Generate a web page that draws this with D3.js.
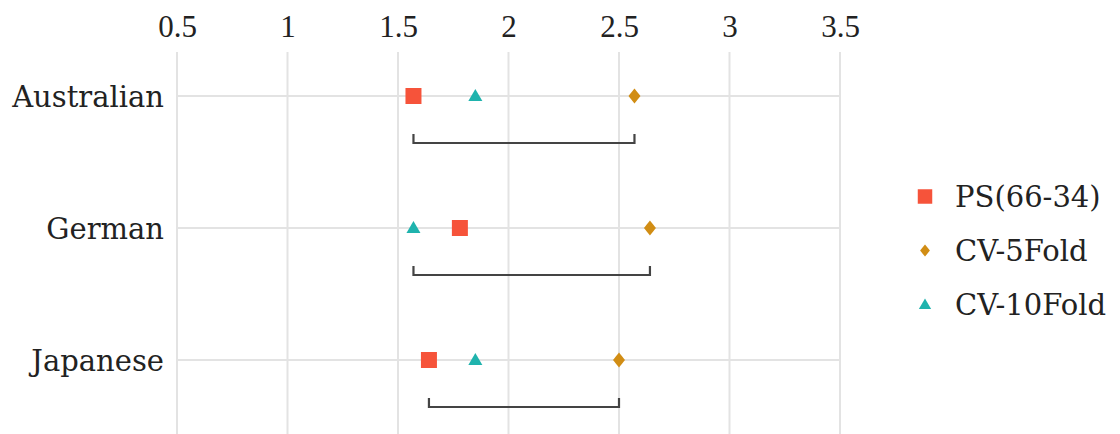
<!DOCTYPE html>
<html>
  <head>
    <meta charset="utf-8">
    <title>Method comparison</title>
    <style>
      body { margin: 0; background: #fff; }
      text { font-family: "DejaVu Serif", "Liberation Serif", serif; fill: #222; }
      .grid line { stroke: #e3e3e3; stroke-width: 2; }
    </style>
  </head>
  <body>
    <div id="chart"></div>
    <script src="https://d3js.org/d3.v7.min.js"></script>
    <script>
      // data
      var datasets = ['Australian', 'German', 'Japanese'];
      var methods = ['PS(66-34)', 'CV-5Fold', 'CV-10Fold'];
      var psValues = [1.57, 1.78, 1.64];
      var cv5Values = [2.57, 2.64, 2.50];
      var cv10Values = [1.85, 1.57, 1.85];
      var xTicks = [0.5, 1, 1.5, 2, 2.5, 3, 3.5];

      var width = 1120, height = 434;
      var colors = ['#f6533a', '#d18d14', '#1fb3ad'];

      // ggplot-like diamond: a bit wider than d3's
      var wideDiamond = {
        draw: function(context, size) {
          var h = Math.sqrt(size / 1.6) , w = h * 0.8;
          context.moveTo(0, -h);
          context.lineTo(w, 0);
          context.lineTo(0, h);
          context.lineTo(-w, 0);
          context.closePath();
        }
      };
      var shapes = [d3.symbolSquare, wideDiamond, d3.symbolTriangle];

      var svg = d3.select('#chart').append('svg')
        .attr('width', width)
        .attr('height', height);

      var x = d3.scaleLinear().domain([0.5, 3.5]).range([177, 840]);
      var y = d3.scalePoint().domain(datasets).range([96, 360]);
      var bracketOffset = 47;

      // grid
      var grid = svg.append('g').attr('class', 'grid');
      grid.selectAll('.vg').data(xTicks).enter().append('line')
        .attr('x1', function(d) { return x(d); })
        .attr('x2', function(d) { return x(d); })
        .attr('y1', 52).attr('y2', height);
      grid.selectAll('.hg').data(datasets).enter().append('line')
        .attr('x1', x(0.5)).attr('x2', x(3.5))
        .attr('y1', function(d) { return y(d); })
        .attr('y2', function(d) { return y(d); });

      // top axis labels
      var xAxis = d3.axisTop(x).tickValues(xTicks).tickSize(0).tickPadding(0)
        .tickFormat(d3.format('~g'));
      var gx = svg.append('g').attr('transform', 'translate(0,37)').call(xAxis);
      gx.select('.domain').remove();
      gx.selectAll('text').attr('dy', 0).style('font-size', '31px')
        .style('font-family', '"Liberation Serif", serif').attr('fill', '#222');

      // left axis labels
      var yAxis = d3.axisLeft(y).tickSize(0).tickPadding(0);
      var gy = svg.append('g').attr('transform', 'translate(164,0)').call(yAxis);
      gy.select('.domain').remove();
      gy.selectAll('text').attr('dy', 10).style('font-size', '29px')
        .style('font-family', '"DejaVu Serif", serif').attr('fill', '#222');

      // range brackets
      var rows = datasets.map(function(d, i) {
        var vals = [psValues[i], cv5Values[i], cv10Values[i]];
        return { name: d, vals: vals, lo: d3.min(vals), hi: d3.max(vals) };
      });
      svg.selectAll('.bracket').data(rows).enter().append('path')
        .attr('class', 'bracket')
        .attr('fill', 'none').attr('stroke', '#444').attr('stroke-width', 2.2)
        .attr('d', function(d) {
          var yb = y(d.name) + bracketOffset;
          return 'M' + x(d.lo) + ',' + (yb - 9) + 'V' + yb + 'H' + x(d.hi) + 'V' + (yb - 9);
        });

      // points
      var sizes = [256, 90, 85];
      var offsets = [0, 0, 1];
      var series = [psValues, cv5Values, cv10Values];
      series.forEach(function(vals, s) {
        svg.selectAll('.pt' + s).data(vals).enter().append('path')
          .attr('transform', function(d, i) {
            return 'translate(' + x(d) + ',' + (y(datasets[i]) + offsets[s]) + ')';
          })
          .attr('d', d3.symbol().type(shapes[s]).size(sizes[s]))
          .attr('fill', colors[s]);
      });

      // legend
      var legend = svg.selectAll('.legend').data(methods).enter().append('g')
        .attr('class', 'legend')
        .attr('transform', function(d, i) { return 'translate(925,' + (196.5 + i * 54) + ')'; });
      var legendSizes = [210, 60, 65];
      legend.append('path')
        .attr('d', function(d, i) { return d3.symbol().type(shapes[i]).size(legendSizes[i])(); })
        .attr('transform', function(d, i) { return i === 2 ? 'translate(0,1)' : null; })
        .attr('fill', function(d, i) { return colors[i]; });
      legend.append('text')
        .attr('x', 30).attr('y', 10)
        .style('font-size', '29px')
        .text(function(d) { return d; });
    </script>
  </body>
</html>
